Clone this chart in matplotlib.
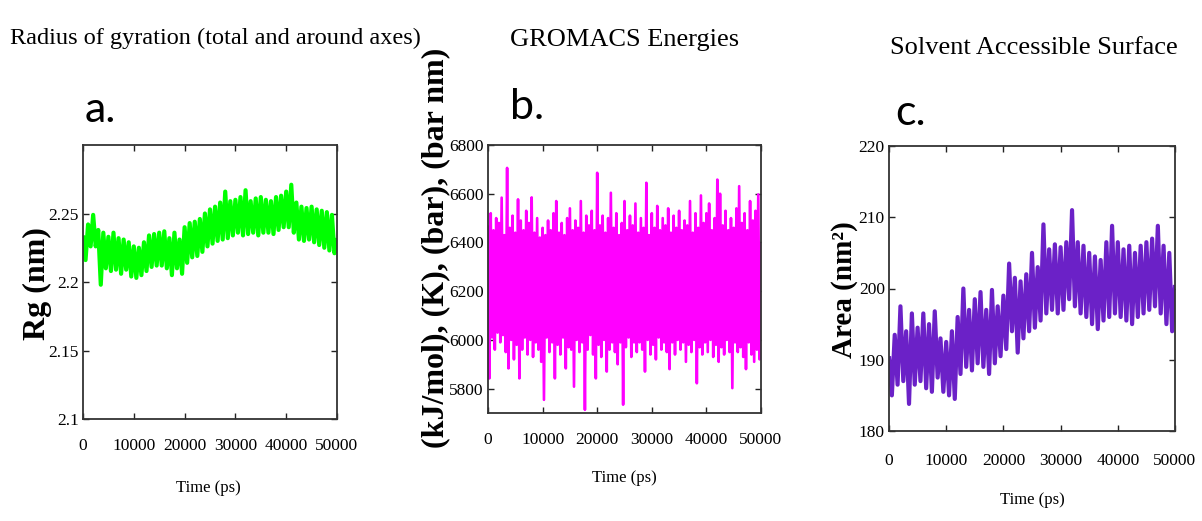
import numpy as np
import matplotlib
matplotlib.use("Agg")
import matplotlib.pyplot as plt

# ---------------- data ----------------
titles = ["Radius of gyration (total and around axes)", "GROMACS Energies",
          "Solvent Accessible Surface"]
panel_letters = ["a.", "b.", "c."]
x_label = "Time (ps)"
y_labels = ["Rg (nm)", "(kJ/mol), (K), (bar), (bar nm)", "Area (nm²)"]
x_ticks = [0, 10000, 20000, 30000, 40000, 50000]
rg_yticks = [2.1, 2.15, 2.2, 2.25]
rg_yticklabels = ["2.1", "2.15", "2.2", "2.25"]
energy_yticks = [5800, 6000, 6200, 6400, 6600, 6800]
sasa_yticks = [180, 190, 200, 210, 220]

rg_time = np.linspace(0, 50000, 101)
rg_nm = [2.234, 2.216, 2.242, 2.226, 2.249, 2.226, 2.238, 2.198, 2.236, 2.210,
         2.233, 2.208, 2.236, 2.209, 2.232, 2.206, 2.231, 2.209, 2.229, 2.204,
         2.226, 2.203, 2.225, 2.205, 2.229, 2.208, 2.234, 2.211, 2.235, 2.212,
         2.236, 2.212, 2.237, 2.210, 2.232, 2.205, 2.236, 2.210, 2.231, 2.206,
         2.240, 2.214, 2.243, 2.218, 2.244, 2.219, 2.246, 2.222, 2.250, 2.226,
         2.253, 2.228, 2.255, 2.230, 2.258, 2.231, 2.266, 2.232, 2.259, 2.234,
         2.260, 2.236, 2.262, 2.234, 2.267, 2.235, 2.259, 2.236, 2.261, 2.234,
         2.262, 2.236, 2.260, 2.236, 2.259, 2.235, 2.262, 2.238, 2.263, 2.240,
         2.266, 2.240, 2.271, 2.236, 2.258, 2.231, 2.255, 2.230, 2.254, 2.231,
         2.255, 2.229, 2.253, 2.227, 2.252, 2.225, 2.251, 2.223, 2.249, 2.221,
         2.232]

# energy, sampled every 250 ps
energy_time = np.linspace(0, 50000, 201)
energy = [6470, 5842, 6520, 6010, 6450, 5960, 6500, 6030, 6480, 5990,
          6584, 6020, 6430, 5950, 6706, 5883, 6460, 6000, 6510, 5920,
          6440, 5980, 6577, 5842, 6490, 5960, 6450, 6010, 6530, 5940,
          6480, 6000, 6585, 5930, 6440, 5990, 6500, 5960, 6420, 5910,
          6460, 5754, 6430, 6010, 6490, 5950, 6450, 5990, 6520, 5842,
          6570, 5980, 6440, 5940, 6480, 6010, 6430, 5883, 6500, 5970,
          6540, 5960, 6450, 5808, 6490, 6000, 6460, 5950, 6570, 5990,
          6440, 5713, 6510, 5960, 6470, 6020, 6530, 5940, 6450, 5842,
          6686, 5980, 6470, 5930, 6510, 6000, 6440, 5870, 6500, 5960,
          6604, 5990, 6460, 5950, 6520, 5900, 6430, 5990, 6480, 5734,
          6570, 5970, 6450, 6010, 6510, 5930, 6470, 5990, 6560, 5950,
          6440, 5990, 6500, 5960, 6460, 5870, 6645, 6000, 6430, 5940,
          6520, 5980, 6460, 5920, 6550, 6010, 6450, 5960, 6500, 5990,
          6470, 5950, 6540, 5880, 6440, 5990, 6510, 5940, 6460, 6000,
          6530, 5960, 6450, 5990, 6490, 5910, 6470, 5980, 6570, 5950,
          6440, 6000, 6520, 5822, 6460, 5970, 6593, 5940, 6480, 5990,
          6520, 5950, 6560, 6000, 6450, 5930, 6500, 5980, 6658, 5910,
          6600, 5970, 6470, 5940, 6530, 6000, 6450, 5950, 6500, 5802,
          6460, 5990, 6540, 5950, 6631, 5970, 6480, 5930, 6520, 5880,
          6450, 5990, 6570, 5940, 6490, 5910, 6530, 5960, 6597, 5920,
          6400]

# solvent accessible surface, sampled every 500 ps
sasa_time = np.linspace(0, 50000, 101)
sasa_nm2 = [190.5, 185.0, 193.5, 186.5, 197.5, 187.0, 194.0, 183.8, 196.5, 186.5,
            194.5, 187.0, 196.5, 186.0, 195.0, 185.5, 196.8, 187.5, 193.0, 185.5,
            192.5, 185.0, 194.0, 184.5, 196.0, 188.0, 200.0, 189.0, 197.0, 188.5,
            198.5, 189.5, 199.5, 189.0, 197.0, 188.0, 199.8, 189.5, 197.5, 190.5,
            199.0, 191.5, 203.5, 194.0, 201.5, 191.0, 201.0, 193.0, 202.0, 194.0,
            205.0, 194.5, 203.0, 195.5, 209.0, 196.5, 205.5, 197.0, 206.2, 196.5,
            205.8, 197.0, 206.5, 198.5, 211.0, 197.5, 206.5, 196.5, 206.0, 196.0,
            205.0, 195.0, 204.5, 194.3, 204.0, 195.5, 206.5, 196.0, 208.8, 196.5,
            206.5, 196.0, 205.5, 195.5, 206.0, 195.0, 205.0, 196.0, 206.0, 196.5,
            206.5, 197.0, 207.0, 197.5, 208.8, 196.5, 206.0, 195.0, 205.0, 194.0,
            200.5]

# ---------------- figure ----------------
W, H = 1202, 521
fig = plt.figure(figsize=(W / 100, H / 100), dpi=100)
serif = ["Liberation Serif", "DejaVu Serif"]

def px_axes(l, t, r, b):
    return [l / W, 1 - b / H, (r - l) / W, (b - t) / H]

panels = [
    dict(rect=px_axes(83, 145, 337, 419), t=rg_time, y=rg_nm, color="#00FF00", lw=3.0,
         ylim=(2.1, 2.3), yticks=rg_yticks, yticklabels=rg_yticklabels,
         ylab_xy=(-0.181, 0.496), xlab_xy=(0.492, -0.252), xpad=14),
    dict(rect=px_axes(488, 145, 761, 413), t=energy_time, y=energy, color="#FF00FF", lw=1.9,
         ylim=(5700, 6800), yticks=energy_yticks, yticklabels=[str(v) for v in energy_yticks],
         ylab_xy=(-0.190, 0.616), xlab_xy=(0.498, -0.243), xpad=14),
    dict(rect=px_axes(889, 146, 1175, 431), t=sasa_time, y=sasa_nm2, color="#6B21C7", lw=3.0,
         ylim=(180, 220), yticks=sasa_yticks, yticklabels=[str(v) for v in sasa_yticks],
         ylab_xy=(-0.154, 0.495), xlab_xy=(0.5, -0.242), xpad=16),
]
ylab_sizes = [23, 23, 21]
tick_fs = 12.5

for i, p in enumerate(panels):
    ax = fig.add_axes(p["rect"])
    ax.plot(p["t"], p["y"], color=p["color"], lw=p["lw"], solid_joinstyle="round",
            solid_capstyle="butt")
    ax.set_xlim(0, 50000)
    ax.set_ylim(*p["ylim"])
    ax.set_xticks(x_ticks)
    ax.set_xticklabels([str(v) for v in x_ticks], fontfamily=serif, fontsize=tick_fs)
    ax.set_yticks(p["yticks"])
    ax.set_yticklabels(p["yticklabels"], fontfamily=serif, fontsize=tick_fs)
    ax.tick_params(direction="in", top=True, right=True, length=4, width=1,
                   color="#222222")
    ax.tick_params(axis="x", pad=p["xpad"])
    ax.tick_params(axis="y", pad=3)
    for s in ax.spines.values():
        s.set_linewidth(1.3)
        s.set_color("#333333")
    ax.set_xlabel(x_label, fontfamily=serif, fontsize=12)
    ax.xaxis.set_label_coords(*p["xlab_xy"])
    ax.xaxis.label.set_va("center")
    ax.set_ylabel(y_labels[i], fontfamily=serif, fontsize=ylab_sizes[i], fontweight="bold")
    ax.yaxis.set_label_coords(*p["ylab_xy"])
    ax.yaxis.label.set_va("center")

# titles
fig.text(10 / W, 1 - 38 / H, titles[0], ha="left", va="center", fontfamily=serif, fontsize=17.5)
fig.text(625 / W, 1 - 40 / H, titles[1], ha="center", va="center", fontfamily=serif, fontsize=19)
fig.text(1034 / W, 1 - 48 / H, titles[2], ha="center", va="center", fontfamily=serif, fontsize=19)

# panel letters
letter_font = ["Lato", "DejaVu Sans"]
fig.text(85 / W, 1 - 110 / H, panel_letters[0], ha="left", va="center", fontfamily=letter_font, fontsize=31)
fig.text(510 / W, 1 - 107 / H, panel_letters[1], ha="left", va="center", fontfamily=letter_font, fontsize=31)
fig.text(895 / W, 1 - 113 / H, panel_letters[2], ha="left", va="center", fontfamily=letter_font, fontsize=31)

fig.savefig("out.png", dpi=100, facecolor="white")
